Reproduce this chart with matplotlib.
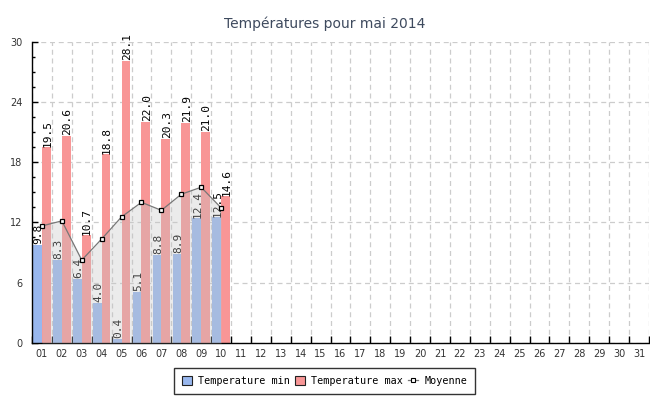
import matplotlib
matplotlib.use("Agg")
import matplotlib.pyplot as plt
import numpy as np
from matplotlib.patches import Patch
from matplotlib.lines import Line2D

days = [f"{d:02d}" for d in range(1, 32)]
temp_min = [9.8, 8.3, 6.4, 4.0, 0.4, 5.1, 8.8, 8.9, 12.4, 12.5]
temp_max = [19.5, 20.6, 10.7, 18.8, 28.1, 22.0, 20.3, 21.9, 21.0, 14.6]
moyenne = [11.65, 12.15, 8.25, 10.35, 12.55, 14.0, 13.2, 14.8, 15.5, 13.45]
title = "Températures pour mai 2014"

blue = "#98B7EE"
red = "#F89696"
mono = "DejaVu Sans Mono"

fig = plt.figure(figsize=(6.5, 4.0), dpi=100)
ax = fig.add_axes([32/650, 1-343/400, 617/650, (343-41.5)/400])

n = len(temp_min)
x = np.arange(n)
w = 0.44
ax.bar(x - w/2, temp_min, width=w, color=blue, zorder=2, linewidth=0)
ax.bar(x + w/2, temp_max, width=w, color=red, zorder=2, linewidth=0)

for xi, v in zip(x, temp_min):
    ax.text(xi - w/2 + 0.05, v + 0.05, f"{v:.1f}", rotation=90, ha="center", va="bottom",
            fontsize=8, family=mono, color="black", zorder=3)
for xi, v in zip(x, temp_max):
    ax.text(xi + w/2 + 0.05, v + 0.05, f"{v:.1f}", rotation=90, ha="center", va="bottom",
            fontsize=8, family=mono, color="black", zorder=3)

ax.fill_between(x, 0, moyenne, color="#C4C4C4", alpha=0.33, linewidth=0, zorder=4)
ax.plot(x, moyenne, color="#777777", linewidth=0.9, marker="s", markersize=3.3,
        markerfacecolor="white", markeredgecolor="black", markeredgewidth=0.9, zorder=5)

ax.set_xlim(-0.5, len(days) - 0.5)
ax.set_ylim(0, 30)

# x ticks at boundaries, labels centered
ax.set_xticks(np.arange(len(days) + 1) - 0.5)
ax.set_xticklabels([])
ax.set_xticks(np.arange(len(days)), minor=True)
ax.set_xticklabels(days, minor=True)
ax.tick_params(axis="x", which="major", direction="in", length=5, width=1, color="black")
ax.tick_params(axis="x", which="minor", length=0, labelsize=7, labelcolor="#333333", pad=4)

ax.set_yticks(np.arange(0, 31, 6))
ax.set_yticks(np.arange(0, 30.1, 1.5), minor=True)
ax.tick_params(axis="y", which="major", direction="in", length=4, width=1, color="black",
               labelsize=7, labelcolor="#333333", pad=7)
ax.tick_params(axis="y", which="minor", direction="in", length=2, width=1, color="black")

ax.grid(True, which="major", axis="both", color="#CCCCCC", linestyle=(0, (4, 3)), linewidth=0.9, zorder=0)
ax.set_axisbelow(True)
for s in ["top", "right"]:
    ax.spines[s].set_visible(False)
for s in ["left", "bottom"]:
    ax.spines[s].set_color("black")
    ax.spines[s].set_linewidth(1)

fig.text(0.5, 1 - 24/400, title, ha="center", va="center", fontsize=10, color="#3E4A5E")

handles = [
    Patch(facecolor=blue, edgecolor="#222222", linewidth=0.8),
    Patch(facecolor=red, edgecolor="#222222", linewidth=0.8),
    Line2D([0], [0], color="#777777", linewidth=0.9, marker="s", markersize=3,
           markerfacecolor="white", markeredgecolor="black", markeredgewidth=0.8),
]
leg = fig.legend(handles, ["Temperature min", "Temperature max", "Moyenne"],
                 loc="center", bbox_to_anchor=(324.5/650, 1 - 381/400), ncol=3,
                 prop={"family": mono, "size": 7.3}, frameon=True, fancybox=False,
                 edgecolor="black", handlelength=1.0, handleheight=1.0,
                 handletextpad=0.6, columnspacing=0.5, borderpad=0.75)
leg.get_frame().set_linewidth(1)

fig.savefig("out.png", dpi=100)
